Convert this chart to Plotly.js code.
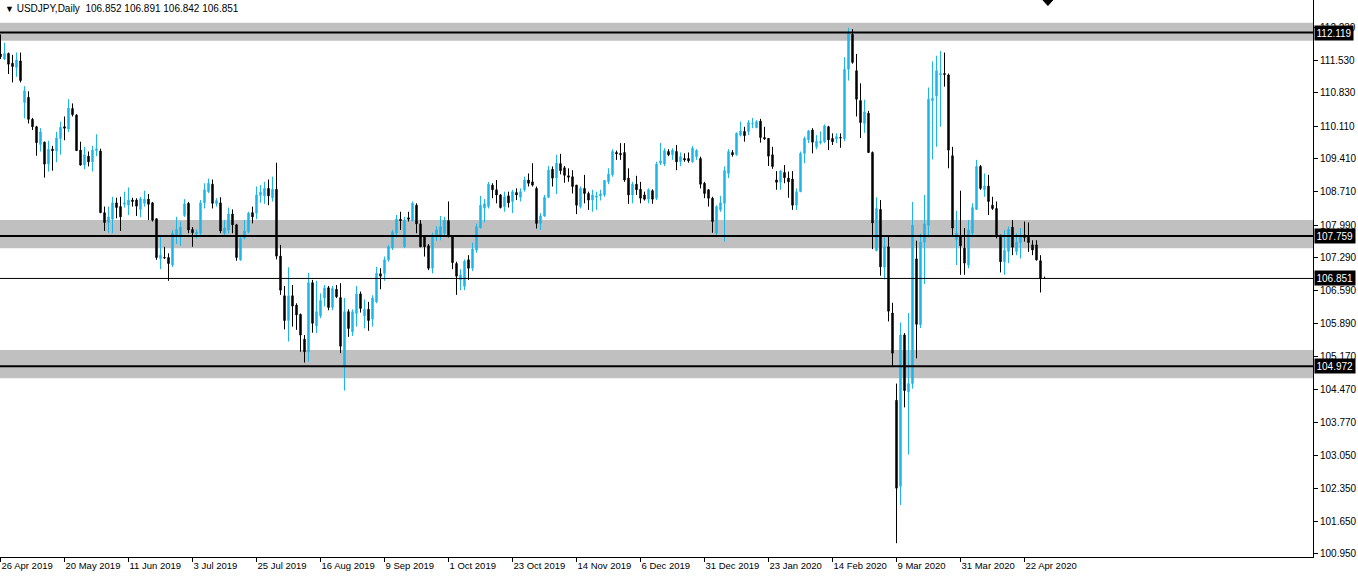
<!DOCTYPE html>
<html><head><meta charset="utf-8">
<script src="https://cdn.plot.ly/plotly-3.0.1.min.js"></script>
<style>html,body{margin:0;padding:0;background:#fff;overflow:hidden}#chart{width:1358px;height:577px}</style>
</head><body><div id="chart"></div>
<script>
// Trading calendar (weekdays, broker closed on these days)
const firstDay = '2019-04-26';
const lastDay = '2020-04-29';
const closedDays = ['2019-12-25', '2020-01-01'];

const openP = [111.66,111.55,111.67,111.46,111.37,111.51,110.62,110.73,110.26,110.10,109.72,109.77,109.30,109.62,109.58,109.85,110.10,110.05,110.49,110.35,
109.60,109.28,109.47,109.35,109.59,109.58,108.26,108.05,108.12,108.47,108.39,108.44,108.42,108.53,108.53,108.33,108.46,108.55,108.47,108.13,
107.28,107.30,107.30,107.14,107.78,107.78,108.20,108.46,107.90,107.80,107.82,108.47,108.71,108.87,108.45,108.47,107.82,107.89,108.23,108.00,
107.25,107.71,107.85,108.26,108.25,108.63,108.62,108.78,108.58,108.76,107.33,106.48,105.95,106.48,106.28,106.08,105.55,105.28,106.76,105.83,
106.05,106.43,106.65,106.23,106.62,106.44,104.99,106.14,105.71,106.10,106.52,106.05,106.19,105.98,106.35,106.95,106.96,107.25,107.50,107.82,
108.12,107.53,108.15,108.09,108.42,108.02,107.75,107.55,107.07,107.78,107.76,107.82,108.09,107.75,107.17,106.82,106.68,107.25,107.07,107.46,
107.94,108.36,108.39,108.85,108.75,108.64,108.39,108.62,108.50,108.69,108.59,108.75,108.96,108.92,108.78,108.03,108.19,108.59,109.19,109.00,
109.31,109.22,109.05,109.03,108.85,108.39,108.78,108.67,108.53,108.59,108.62,108.64,108.92,109.07,109.55,109.53,109.55,109.00,108.64,108.87,
108.76,108.64,108.55,108.73,108.57,109.32,109.30,109.57,109.50,109.57,109.35,109.42,109.42,109.35,109.46,109.42,108.89,108.75,108.57,107.82,
108.32,108.46,109.10,109.55,109.50,109.92,110.00,110.00,110.16,110.08,110.22,109.87,109.85,109.50,108.96,108.91,109.12,109.00,108.98,108.42,
108.71,109.53,109.82,110.03,109.67,109.76,109.78,110.10,109.85,109.84,109.87,109.84,111.33,112.08,111.30,110.66,110.17,110.39,109.55,107.45,
108.33,107.09,107.53,106.11,104.24,102.40,105.64,104.42,104.60,107.27,105.86,107.63,107.99,110.66,110.76,111.21,111.24,111.21,109.48,107.68,
107.75,107.50,107.14,107.82,108.33,109.25,108.75,108.83,108.42,108.35,107.78,107.21,107.43,107.95,107.43,107.62,107.78,107.76,107.57,107.57,
107.23,106.852];

const highP = [112.08,111.90,111.69,111.64,111.69,111.69,110.97,110.86,110.29,110.12,110.07,109.78,109.80,109.69,109.99,110.21,110.32,110.69,110.60,110.37,
109.78,109.67,109.57,109.69,109.94,109.63,108.39,108.39,108.60,108.58,108.60,108.71,108.80,108.58,108.57,108.60,108.73,108.66,108.49,108.13,
107.75,107.53,107.39,107.89,108.17,108.07,108.55,108.49,107.95,107.90,108.53,108.89,108.99,108.97,108.57,108.59,108.10,108.37,108.33,108.02,
107.75,108.10,108.28,108.39,108.82,108.85,108.92,108.97,109.03,109.33,107.57,106.69,107.09,106.71,106.32,106.10,105.64,106.97,106.82,106.80,
106.53,106.71,106.69,106.69,106.71,106.75,106.43,106.19,106.19,106.69,106.57,106.40,106.35,106.49,107.10,107.07,107.32,107.57,107.89,108.21,
108.28,108.17,108.28,108.50,108.46,108.10,107.76,107.59,107.83,107.97,108.19,108.17,108.50,107.78,107.21,107.05,107.26,107.35,107.62,108.03,
108.62,108.55,108.92,108.89,108.96,108.66,108.71,108.71,108.75,108.78,108.78,109.03,109.10,109.32,108.82,108.25,108.64,109.26,109.25,109.50,
109.52,109.26,109.21,109.17,108.85,108.82,109.07,108.71,108.75,108.71,108.75,108.96,109.21,109.62,109.59,109.75,109.75,109.21,108.92,109.05,
108.92,108.71,108.78,108.76,109.35,109.75,109.64,109.62,109.64,109.71,109.55,109.53,109.55,109.69,109.62,109.46,108.92,108.76,108.60,108.42,
108.62,109.25,109.62,109.60,109.98,110.21,110.10,110.24,110.29,110.24,110.27,110.10,109.85,109.67,109.15,109.17,109.28,109.14,109.15,108.78,
109.57,109.89,110.03,110.07,109.92,110.00,110.15,110.12,109.96,109.96,109.96,111.59,112.22,112.19,111.66,111.03,110.68,110.44,109.57,108.59,
108.53,107.73,107.77,106.33,104.60,105.91,105.68,106.11,108.49,107.66,107.81,108.64,110.94,111.50,111.62,111.72,111.69,111.24,109.67,108.30,
108.73,107.93,108.10,108.46,109.39,109.28,109.10,109.07,108.60,108.50,107.78,107.89,107.96,108.10,107.82,107.93,108.07,108.05,107.67,107.67,
107.35,106.891];

const lowP = [111.55,111.53,111.23,111.05,111.17,111.05,110.28,110.17,110.03,109.48,109.57,109.01,109.14,109.16,109.34,109.50,109.81,109.99,110.32,109.58,
109.27,109.19,109.25,109.14,109.47,108.25,107.87,107.83,107.82,108.14,107.87,108.37,108.21,108.39,108.19,108.16,108.39,108.10,108.07,107.25,
107.05,107.27,106.80,107.10,107.59,107.55,108.17,107.82,107.53,107.71,107.78,108.35,108.68,108.35,108.39,107.82,107.78,107.82,107.82,107.23,
107.23,107.69,107.82,108.03,108.12,108.47,108.45,108.42,108.50,107.26,106.50,105.76,105.50,105.82,105.75,105.28,105.05,105.07,105.69,105.68,
106.00,106.25,106.17,106.17,106.43,105.25,104.45,105.60,105.62,105.82,106.12,105.78,105.73,105.82,106.32,106.62,106.80,107.21,107.46,107.73,
107.89,107.50,108.07,108.07,107.82,107.52,107.32,107.03,106.96,107.66,107.67,107.76,107.73,107.05,106.50,106.60,106.60,106.82,107.01,107.40,
107.92,108.05,108.35,108.57,108.46,108.35,108.28,108.37,108.25,108.53,108.50,108.71,108.82,108.82,107.92,107.89,108.17,108.57,108.82,108.66,
109.08,108.90,108.92,108.67,108.23,108.35,108.46,108.32,108.28,108.32,108.52,108.60,108.87,109.03,109.39,109.39,108.92,108.45,108.46,108.64,
108.46,108.52,108.46,108.45,108.53,109.28,109.26,109.47,109.39,109.17,109.26,109.35,109.33,109.33,109.39,108.78,108.57,108.39,107.83,107.78,
108.28,107.64,109.00,109.46,109.48,109.89,109.78,109.92,110.07,110.07,109.76,109.82,109.26,109.20,108.75,108.75,108.89,108.58,108.32,108.32,
108.70,109.32,109.75,109.53,109.62,109.72,109.75,109.60,109.71,109.75,109.65,109.79,111.09,111.45,110.32,109.86,109.97,109.54,107.48,107.43,
106.91,106.83,105.93,104.96,101.18,102.00,104.09,103.08,104.49,105.14,105.79,106.73,107.73,109.40,109.67,110.10,110.96,109.21,107.78,107.14,
106.93,106.93,107.07,107.76,108.32,108.75,108.60,108.21,108.32,107.71,106.98,106.93,107.18,107.35,107.35,107.28,107.64,107.42,107.35,107.23,
106.55,106.842];

const closeP = [111.60,111.67,111.44,111.39,111.53,111.09,110.87,110.26,110.10,109.76,109.99,109.30,109.62,109.59,109.86,110.09,110.07,110.50,110.36,109.59,
109.28,109.50,109.35,109.60,109.63,108.26,108.05,108.17,108.47,108.37,108.17,108.47,108.53,108.50,108.40,108.56,108.55,108.44,108.10,107.30,
107.35,107.29,107.17,107.82,107.90,107.95,108.45,107.89,107.83,107.84,108.47,108.75,108.89,108.46,108.52,107.87,107.93,108.23,108.00,107.30,
107.71,107.87,108.25,108.17,108.64,108.70,108.78,108.62,108.76,107.33,106.60,105.95,106.48,106.26,106.07,105.64,105.28,106.76,105.89,106.14,
106.38,106.65,106.23,106.64,106.46,105.40,106.14,105.78,106.14,106.52,106.21,106.19,105.95,106.43,106.96,106.90,107.25,107.53,107.85,108.12,
108.09,108.10,108.12,108.46,108.02,107.53,107.53,107.07,107.78,107.89,107.96,108.10,107.75,107.19,106.90,106.93,107.22,107.07,107.48,107.96,
108.42,108.45,108.87,108.75,108.64,108.37,108.60,108.47,108.71,108.64,108.71,108.96,108.89,108.85,108.03,108.19,108.59,109.17,109.00,109.32,
109.16,109.06,109.02,108.82,108.42,108.78,108.67,108.53,108.64,108.62,108.66,108.95,109.09,109.57,109.52,109.50,108.96,108.64,108.87,108.75,
108.57,108.55,108.75,108.55,109.30,109.37,109.59,109.50,109.60,109.35,109.46,109.39,109.37,109.64,109.59,108.87,108.67,108.57,108.07,108.39,
108.47,109.16,109.57,109.50,109.96,110.01,109.91,110.19,110.17,110.21,109.87,109.84,109.47,109.25,108.91,109.15,109.01,108.92,108.42,108.71,
109.53,109.85,110.01,109.77,109.79,109.79,110.12,109.82,109.78,109.89,109.86,111.33,112.10,111.48,110.69,110.19,110.42,109.55,108.04,108.35,
107.10,107.53,106.15,105.25,102.36,105.64,104.45,104.60,107.99,105.87,107.63,108.02,110.69,110.71,111.30,111.24,111.22,109.60,107.93,107.82,
107.55,107.18,107.89,108.37,109.25,108.78,108.83,108.50,108.35,107.75,107.21,107.45,107.90,107.52,107.63,107.76,107.73,107.62,107.46,107.25,
106.85,106.851];

const dateTickVals = ['2019-04-26','2019-05-20','2019-06-11','2019-07-03','2019-07-25','2019-08-16','2019-09-09','2019-10-01','2019-10-23',
  '2019-11-14','2019-12-06','2019-12-31','2020-01-23','2020-02-14','2020-03-09','2020-03-31','2020-04-22'];
const dateTickText = ['26 Apr 2019','20 May 2019','11 Jun 2019','3 Jul 2019','25 Jul 2019','16 Aug 2019','9 Sep 2019','1 Oct 2019','23 Oct 2019',
  '14 Nov 2019','6 Dec 2019','31 Dec 2019','23 Jan 2020','14 Feb 2020','9 Mar 2020','31 Mar 2020','22 Apr 2020'];
const priceTicks = [112.230,111.530,110.830,110.110,109.410,108.710,107.990,107.290,106.590,105.890,105.170,104.470,103.770,103.050,102.350,101.650,100.950];

const zoneLevels = [112.119, 107.759, 104.972];
const zoneLow = [111.943, 107.497, 104.713];
const zoneHigh = [112.329, 108.103, 105.319];
const bidPrice = 106.851;
const titleText = 'USDJPY,Daily  106.852 106.891 106.842 106.851';

function tradingDays(a, b, skip) {
  const out = [];
  const d = new Date(a + 'T00:00:00Z');
  const end = new Date(b + 'T00:00:00Z');
  while (d <= end) {
    const w = d.getUTCDay();
    const s = d.toISOString().slice(0, 10);
    if (w !== 0 && w !== 6 && skip.indexOf(s) < 0) out.push(s);
    d.setUTCDate(d.getUTCDate() + 1);
  }
  return out;
}
const dates = tradingDays(firstDay, lastDay, closedDays);

const bull = '#1cb6ea';
const FONT = 'Liberation Sans, Arial, sans-serif';

const trace = {
  type: 'candlestick', x: dates, open: openP, high: highP, low: lowP, close: closeP,
  increasing: {line: {color: bull, width: 1}, fillcolor: bull},
  decreasing: {line: {color: '#000000', width: 1}, fillcolor: '#000000'},
  whiskerwidth: 0, hoverinfo: 'skip', showlegend: false
};

const shapes = [];
zoneLevels.forEach((lv, k) => {
  shapes.push({type: 'rect', xref: 'paper', x0: 0, x1: 1, yref: 'y', y0: zoneLow[k], y1: zoneHigh[k],
    fillcolor: '#c0c0c0', line: {width: 0}, layer: 'below'});
});
zoneLevels.forEach(lv => {
  shapes.push({type: 'line', xref: 'paper', x0: 0, x1: 1, yref: 'y', y0: lv, y1: lv,
    line: {color: '#000', width: 2}, layer: 'above'});
});
shapes.push({type: 'line', xref: 'paper', x0: 0, x1: 1, yref: 'y', y0: bidPrice, y1: bidPrice,
  line: {color: '#000', width: 1}, layer: 'above'});
// chart shift marker
shapes.push({type: 'path', xref: 'x', yref: 'paper', path: 'M 260.6 1 L 263.1 1 L 261.85 0.99 Z',
  fillcolor: '#000', line: {color: '#000', width: 1}});

const annotations = [];
zoneLevels.concat([bidPrice]).forEach(lv => {
  annotations.push({xref: 'paper', x: 1, xanchor: 'left', xshift: 1, yref: 'y', y: lv, yanchor: 'middle',
    text: lv.toFixed(3), showarrow: false, bgcolor: '#000', borderpad: 1.5,
    font: {family: FONT, size: 10, color: '#fff'}});
});
annotations.push({xref: 'paper', x: 0, xanchor: 'left', xshift: 3, yref: 'paper', y: 1, yanchor: 'top', yshift: -1,
  text: '<span style="font-size:9px">▼</span> ' + titleText, showarrow: false,
  font: {family: FONT, size: 10, color: '#000'}});

const layout = {
  width: 1358, height: 577,
  margin: {l: 0, r: 45, t: 0, b: 20, pad: 0},
  paper_bgcolor: '#fff', plot_bgcolor: '#fff',
  boxgap: 0.5,
  showlegend: false,
  xaxis: {
    type: 'category', range: [-0.125, 328.125], rangeslider: {visible: false},
    tickmode: 'array', tickvals: dateTickVals, ticktext: dateTickText,
    ticks: 'outside', ticklen: 4, tickcolor: '#000', tickwidth: 1,
    ticklabelposition: 'outside right',
    showline: true, linecolor: '#000', linewidth: 1, showgrid: false, zeroline: false,
    tickfont: {family: FONT, size: 9.5, color: '#000'}, fixedrange: true
  },
  yaxis: {
    side: 'right', range: [100.885, 112.815],
    tickmode: 'array', tickvals: priceTicks, ticktext: priceTicks.map(v => v.toFixed(3)),
    ticks: 'outside', ticklen: 4, tickcolor: '#000', tickwidth: 1,
    showline: true, linecolor: '#000', linewidth: 1, showgrid: false, zeroline: false,
    tickfont: {family: FONT, size: 10, color: '#000'}, fixedrange: true
  },
  shapes: shapes, annotations: annotations
};

Plotly.newPlot('chart', [trace], layout, {staticPlot: true, displayModeBar: false});
</script>
</body></html>
